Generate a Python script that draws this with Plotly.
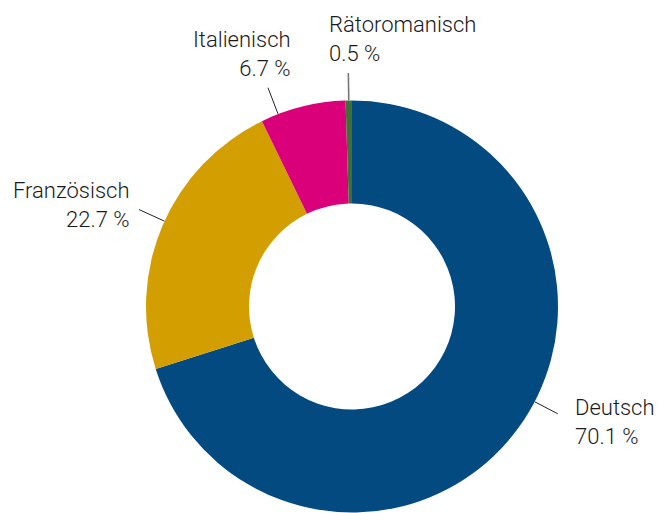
import math
import plotly.graph_objects as go

# ---- data ----
languages = ["Deutsch", "Französisch", "Italienisch", "Rätoromanisch"]
shares = [70.1, 22.7, 6.7, 0.5]
share_labels = ["70.1 %", "22.7 %", "6.7 %", "0.5 %"]
colors = ["#034a81", "#d29e00", "#d9007a", "#3f6f34"]

# ---- label styling (angle nudges in degrees, anchors) ----
label_nudge = [-8.7, 1.2, -7.2, 0.0]
label_len = [26, 28, 28, 27]
label_dx = [15, -7, 25, -21]
label_dy = [8, -5, -5, -5]
label_xanchor = ["left", "right", "right", "left"]
label_yanchor = ["middle", "middle", "bottom", "bottom"]
line_colors = ["#222222", "#222222", "#222222", "#777777"]
line_widths = [1, 1, 1, 1.6]

W, H = 662, 513
L, R, T, B = 145.5, 103.5, 100, 0
pw, ph = W - L - R, H - T - B
cx, cy = L + pw / 2, T + ph / 2
rad = min(pw, ph) / 2


def to_paper(px, py):
    return (px - L) / pw, (H - B - py) / ph


fig = go.Figure(
    go.Pie(
        labels=languages,
        values=shares,
        hole=0.5,
        sort=False,
        direction="clockwise",
        rotation=0,
        marker=dict(colors=colors, line=dict(width=0)),
        textinfo="none",
        hoverinfo="label+percent",
        showlegend=False,
    )
)

total = sum(shares)
cum = 0.0
for i, v in enumerate(shares):
    mid = (cum + v / 2) / total * 360.0
    cum += v
    ang = math.radians(mid + label_nudge[i])
    x0 = cx + rad * math.sin(ang)
    y0 = cy - rad * math.cos(ang)
    x1 = cx + (rad + label_len[i]) * math.sin(ang)
    y1 = cy - (rad + label_len[i]) * math.cos(ang)
    p0 = to_paper(x0, y0)
    p1 = to_paper(x1, y1)
    fig.add_shape(
        type="line", xref="paper", yref="paper",
        x0=p0[0], y0=p0[1], x1=p1[0], y1=p1[1],
        line=dict(color=line_colors[i], width=line_widths[i]),
    )
    pt = to_paper(x1 + label_dx[i], y1 + label_dy[i])
    fig.add_annotation(
        xref="paper", yref="paper", x=pt[0], y=pt[1],
        text=f"{languages[i]}<br>{share_labels[i]}",
        showarrow=False,
        xanchor=label_xanchor[i], yanchor=label_yanchor[i],
        align=label_xanchor[i],
        font=dict(family="Roboto", size=22, color="#1a1a1a", weight=300),
    )

fig.update_layout(
    width=W, height=H,
    margin=dict(l=L, r=R, t=T, b=B, pad=0),
    paper_bgcolor="white",
    plot_bgcolor="white",
)

fig.write_html(
    "out.html",
    config={"displayModeBar": False},
    post_script="document.body.style.margin='0';document.documentElement.style.overflow='hidden';",
)
